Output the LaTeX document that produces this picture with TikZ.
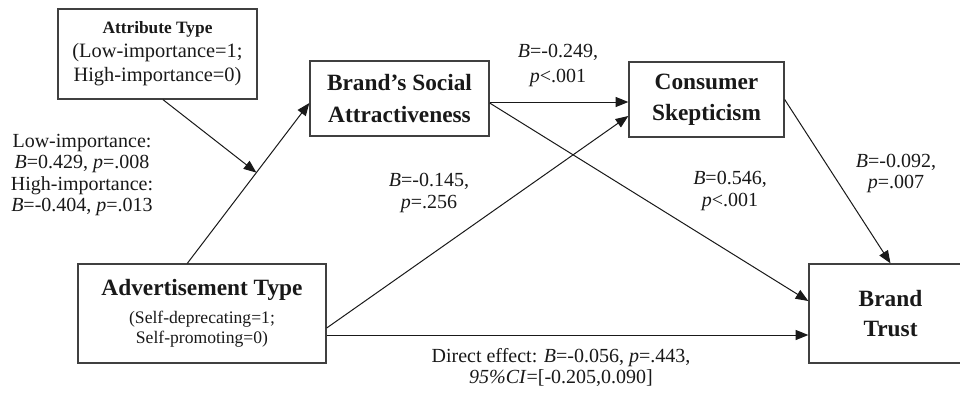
\documentclass[tikz,border=0pt]{standalone}
\usepackage{fontspec}
\setmainfont{Liberation Serif}
\usetikzlibrary{arrows.meta,calc}
\begin{document}
\begin{tikzpicture}[x=0.75pt,y=-0.75pt,
  box/.style={draw=black!75, line width=1pt, inner sep=0pt, align=center, text=black!90},
  lab/.style={align=center, inner sep=0pt, text=black!90, font={\fontsize{15}{16}\selectfont}},
  conn/.style={-{Triangle[length=9.5pt,width=7.5pt]}, line width=0.75pt, black!90}]
\useasboundingbox (0,0) rectangle (960,397);
\clip (0,0) rectangle (960,397);
\fill[white] (0,0) rectangle (960,397);

% boxes
\node[box, minimum width=149.25pt, minimum height=67.5pt, font={\fontsize{15.3}{18}\selectfont}] (attr) at (157.5,54)
  {{\fontsize{13}{18}\selectfont\bfseries Attribute Type}\\(Low-importance=1;\\High-importance=0)};
\node[box, minimum width=134.25pt, minimum height=56.25pt, font={\fontsize{17.5}{24}\selectfont\bfseries}] (bsa) at (399.5,98.5)
  {Brand’s Social\\Attractiveness};
\node[box, minimum width=116.25pt, minimum height=56.25pt, font={\fontsize{17.5}{23}\selectfont\bfseries}] (cs) at (706.5,99.5)
  {Consumer\\Skepticism};
\node[box, minimum width=186pt, minimum height=74.25pt, font={\fontsize{13.2}{15}\selectfont}] (adv) at (202,313.5)
  {{\fontsize{17.5}{21}\selectfont\bfseries Advertisement Type}\\[6pt](Self-deprecating=1;\\Self-promoting=0)};
\node[box, minimum width=122.25pt, minimum height=74.25pt, font={\fontsize{17.5}{23}\selectfont\bfseries}] (bt) at (890.5,313.5)
  {Brand\\Trust};

% connector points
\coordinate (a1s) at ($(adv.north west)+(110,0)$);
\coordinate (a1e) at ($(bsa.west)+(0,4.5)$);
\coordinate (mod) at ($(a1s)!0.566!(a1e)$);

% connectors
\draw[conn] (a1s) -- (a1e);
\draw[conn] ($(attr.south)+(5.5,0)$) -- (mod);
\draw[conn] ($(bsa.east)+(0,3.5)$) -- ($(cs.west)+(0,2.5)$);
\draw[conn] ($(bsa.east)+(0,4.5)$) -- ($(bt.west)+(0,-12.5)$);
\draw[conn] ($(adv.east)+(0,14.5)$) -- ($(cs.west)+(0,16.5)$);
\draw[conn] ($(adv.east)+(0,21.5)$) -- ($(bt.west)+(0,21.5)$);
\draw[conn] (cs.east) -- (bt.north);

% labels
\node[lab] (lmod) at (82,175) {Low-importance:\\\textit{B}=0.429, \textit{p}=.008\\High-importance:\\\textit{B}=-0.404, \textit{p}=.013};
\node[lab, font={\fontsize{15}{18.75}\selectfont}] (lbc) at (558,65) {\textit{B}=-0.249,\\\textit{p}<.001};
\node[lab, font={\fontsize{15}{17}\selectfont}] (lac) at (429,193) {\textit{B}=-0.145,\\\textit{p}=.256};
\node[lab, font={\fontsize{15}{17}\selectfont}] (lbt) at (730,191) {\textit{B}=0.546,\\\textit{p}<.001};
\node[lab] (lct) at (896,173.5) {\textit{B}=-0.092,\\\textit{p}=.007};
\node[lab] (ldir) at (561,367.5) {Direct effect: \textit{B}=-0.056, \textit{p}=.443,\\\textit{95\%CI}=[-0.205,0.090]};
\end{tikzpicture}
\end{document}
